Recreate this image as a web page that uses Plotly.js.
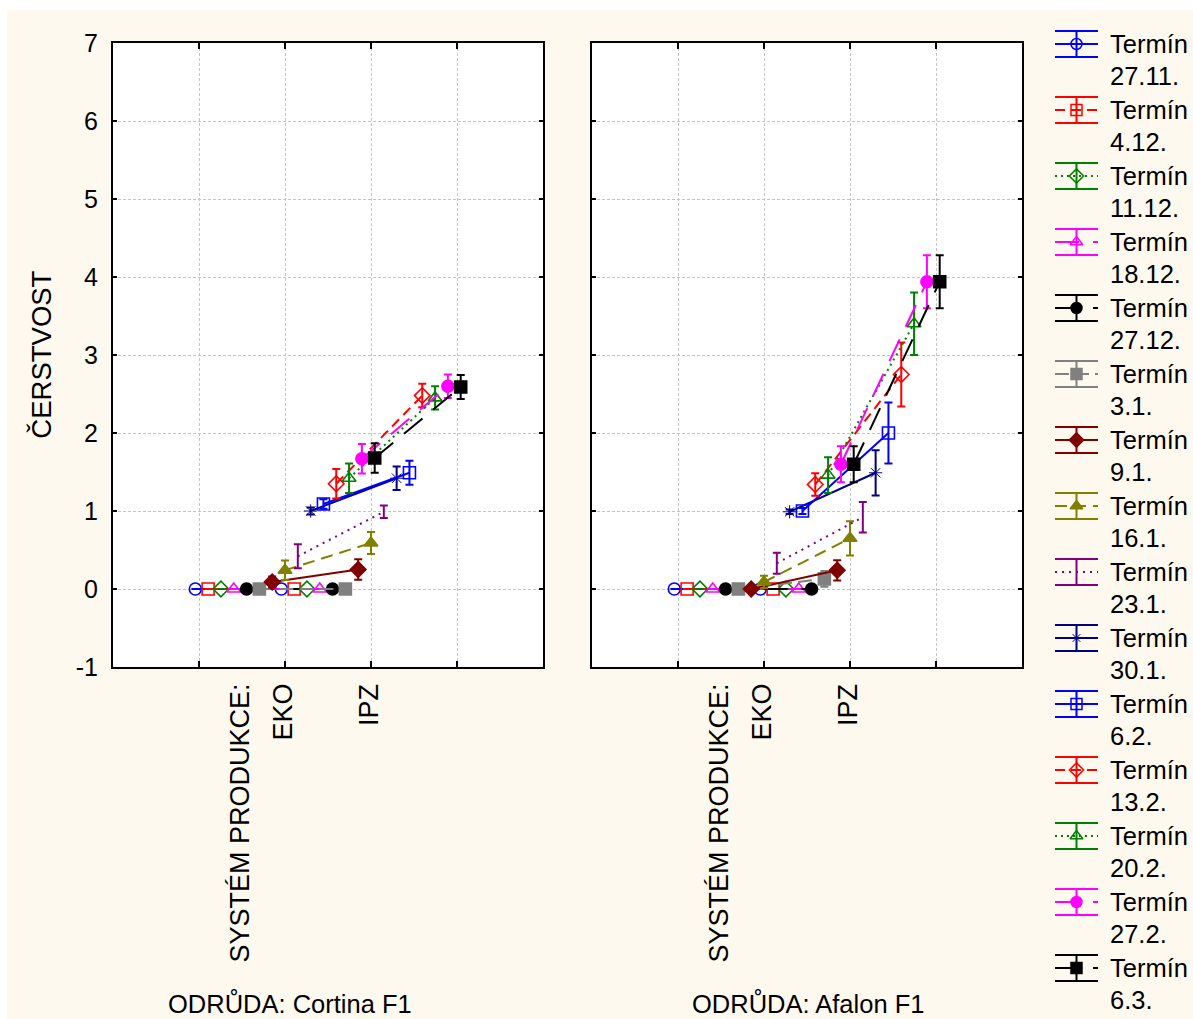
<!DOCTYPE html>
<html>
<head>
<meta charset="utf-8">
<script src="https://cdn.plot.ly/plotly-3.0.1.min.js"></script>
<style>
  html, body { margin: 0; padding: 0; background: #ffffff; }
  #chart { position: absolute; left: 7px; top: 10px; width: 1186px; height: 1009px; }
</style>
</head>
<body>
<div id="chart"></div>
<script>
// ---------- data ----------
const terminDates = ['27.11.', '4.12.', '11.12.', '18.12.', '27.12.', '3.1.', '9.1.', '16.1.', '23.1.', '30.1.', '6.2.', '13.2.', '20.2.', '27.2.', '6.3.'];
const systemLabels = ['SYSTÉM PRODUKCE:', 'EKO', 'IPZ'];
const varietyLabels = ['ODRŮDA: Cortina F1', 'ODRŮDA: Afalon F1'];
const yTitle = 'ČERSTVOST';
const yTickVals = [-1, 0, 1, 2, 3, 4, 5, 6, 7];
const yTickText = ['-1', '0', '1', '2', '3', '4', '5', '6', '7'];

// Cortina F1 – means and error half-widths (EKO, IPZ)
const cortinaEko    = [0, 0, 0, 0, 0, 0, 0.09, 0.24, 0.42, 1.00, 1.09, 1.35, 1.42, 1.67, 1.68];
const cortinaEkoErr = [null, null, null, null, null, null, 0.07, 0.125, 0.155, 0.045, 0.06, 0.19, 0.19, 0.19, 0.19];
const cortinaIpz    = [0, 0, 0, 0, 0, 0, 0.25, 0.59, 0.99, 1.42, 1.49, 2.48, 2.45, 2.60, 2.59];
const cortinaIpzErr = [null, null, null, null, null, null, 0.13, 0.14, 0.08, 0.15, 0.155, 0.15, 0.15, 0.15, 0.155];

// Afalon F1
const afalonEko    = [0, 0, 0, 0, 0, 0, 0, 0.09, 0.33, 0.99, 1.00, 1.34, 1.46, 1.60, 1.60];
const afalonEkoErr = [null, null, null, null, null, null, null, 0.08, 0.135, 0.03, 0.04, 0.145, 0.23, 0.23, 0.23];
const afalonIpz    = [0, 0, 0, 0, 0, 0.13, 0.24, 0.65, 0.92, 1.49, 2.00, 2.75, 3.40, 3.94, 3.94];
const afalonIpzErr = [null, null, null, null, null, 0.10, 0.13, 0.22, 0.195, 0.29, 0.39, 0.41, 0.40, 0.34, 0.34];

// ---------- styles ----------
const colors  = ['#0000FF', '#FF0000', '#008000', '#FF00FF', '#000000', '#808080', '#800000', '#808000', '#800080', '#000080', '#0000FF', '#FF0000', '#008000', '#FF00FF', '#000000'];
const symbols = ['circle-open', 'square-open', 'diamond-open', 'triangle-up-open', 'circle', 'square', 'diamond', 'triangle-up', 'line-ew', 'asterisk-open', 'square-open', 'diamond-open', 'triangle-up-open', 'circle', 'square'];
const dashes  = ['solid', '10px,6px', '2px,4px', '24px,14px', '24px,14px', '14px,6px', 'solid', '12px,7px', '2px,5px', 'solid', 'solid', '10px,6px', '2px,4px', '24px,14px', '24px,14px'];
const FONT = 'Liberation Sans, Arial, sans-serif';
const BG = '#FEF9EE';

const catPos = [1, 2];           // EKO, IPZ
const step = 0.149;              // horizontal dodge between series
const traces = [];

function addPanel(eko, ekoErr, ipz, ipzErr, xa, ya) {
  for (let i = 0; i < terminDates.length; i++) {
    const off = (i - 7) * step;
    const noMarker = symbols[i] === 'line-ew';
    const star = symbols[i] === 'asterisk-open';
    traces.push({
      type: 'scatter',
      mode: noMarker ? 'lines' : 'lines+markers',
      x: [catPos[0] + off, catPos[1] + off],
      y: [eko[i], ipz[i]],
      xaxis: xa, yaxis: ya,
      line: { color: colors[i], width: 2, dash: dashes[i] },
      marker: {
        symbol: symbols[i], size: star ? 11 : 12,
        color: colors[i], line: { color: colors[i], width: star ? 1 : 1.6 }
      },
      error_y: {
        type: 'data', array: [ekoErr[i], ipzErr[i]], visible: true,
        color: colors[i], thickness: 2, width: 4
      },
      showlegend: false, hoverinfo: 'skip'
    });
  }
}
addPanel(cortinaEko, cortinaEkoErr, cortinaIpz, cortinaIpzErr, 'x', 'y');
addPanel(afalonEko, afalonEkoErr, afalonIpz, afalonIpzErr, 'x2', 'y2');

// custom legend glyphs (Statistica style)
const legendAnn = [];
for (let i = 0; i < terminDates.length; i++) {
  const noMarker = symbols[i] === 'line-ew';
  const star = symbols[i] === 'asterisk-open';
  traces.push({
    type: 'scatter', mode: 'lines', x: [0, 1], y: [-i, -i],
    xaxis: 'x3', yaxis: 'y3',
    line: { color: colors[i], width: 2, dash: dashes[i] },
    showlegend: false, hoverinfo: 'skip'
  });
  traces.push({
    type: 'scatter', mode: noMarker ? 'none' : 'markers', x: [0.5], y: [-i],
    xaxis: 'x3', yaxis: 'y3',
    marker: { symbol: symbols[i], size: star ? 9 : 11, color: colors[i], line: { color: colors[i], width: star ? 1 : 1.5 } },
    error_y: { type: 'data', array: [0.197], visible: true, color: colors[i], thickness: 2, width: 21.5 },
    showlegend: false, hoverinfo: 'skip'
  });
  legendAnn.push({
    xref: 'paper', yref: 'y3', x: 0.9215, y: -i, xanchor: 'left', yanchor: 'middle',
    text: 'Termín', showarrow: false, font: { family: FONT, size: 25.5, color: '#000' }
  });
  legendAnn.push({
    xref: 'paper', yref: 'y3', x: 0.9215, y: -i, yshift: -32, xanchor: 'left', yanchor: 'middle',
    text: terminDates[i], showarrow: false, font: { family: FONT, size: 25.5, color: '#000' }
  });
}

// ---------- axes ----------
function xAxis(domain, anchor) {
  return {
    domain: domain, anchor: anchor, range: [-1, 4],
    tickvals: [0, 1, 2, 3], ticktext: ['', '', '', ''],
    ticks: 'inside', ticklen: 6, tickwidth: 2, tickcolor: '#000',
    showline: true, linecolor: '#000', linewidth: 2, mirror: 'ticks',
    showgrid: true, gridcolor: '#C4C4C4', gridwidth: 1, griddash: '3px,2px',
    zeroline: false, fixedrange: true
  };
}
function yAxis(domain, anchor, labels) {
  return {
    domain: domain, anchor: anchor, range: [-1, 7],
    tickvals: yTickVals, ticktext: yTickText,
    showticklabels: labels,
    tickfont: { family: FONT, size: 25, color: '#000' },
    ticks: 'inside', ticklen: 4, tickwidth: 1.5, tickcolor: '#000',
    ticklabelstandoff: 8,
    showline: true, linecolor: '#000', linewidth: 2, mirror: 'ticks',
    showgrid: true, gridcolor: '#C4C4C4', gridwidth: 1, griddash: '3px,2px',
    zeroline: false, fixedrange: true
  };
}

const yDom = [0.34886, 0.96729];
const annotations = [];
// x category labels, rotated
const labelPos = [0.5, 1, 2];
['x', 'x2'].forEach(function (xr) {
  for (let k = 0; k < systemLabels.length; k++) {
    annotations.push({
      xref: xr, yref: 'paper', x: labelPos[k], y: 0.334, xshift: -2,
      xanchor: 'center', yanchor: 'top', textangle: -90,
      text: systemLabels[k], showarrow: false,
      font: { family: FONT, size: 27, color: '#000' }
    });
  }
});
annotations.push({
  xref: 'paper', yref: 'paper', x: 0.1639, y: 0.0159, xanchor: 'center', yanchor: 'middle',
  text: varietyLabels[0], showarrow: false, font: { family: FONT, size: 25.5, color: '#000' }
});
annotations.push({
  xref: 'paper', yref: 'paper', x: 0.6435, y: 0.0159, xanchor: 'center', yanchor: 'middle',
  text: varietyLabels[1], showarrow: false, font: { family: FONT, size: 25.5, color: '#000' }
});
annotations.push({
  xref: 'paper', yref: 'paper', x: -0.0665, y: 0.6586, xanchor: 'center', yanchor: 'middle',
  textangle: -90, text: yTitle, showarrow: false, font: { family: FONT, size: 27.5, color: '#000' }
});

const panelBg = [
  { type: 'rect', xref: 'x domain', yref: 'y domain', x0: 0, x1: 1, y0: 0, y1: 1, fillcolor: '#FFFFFF', line: { width: 0 }, layer: 'below' },
  { type: 'rect', xref: 'x2 domain', yref: 'y2 domain', x0: 0, x1: 1, y0: 0, y1: 1, fillcolor: '#FFFFFF', line: { width: 0 }, layer: 'below' }
];

const layout = {
  width: 1186, height: 1009,
  margin: { l: 106, r: 0, t: 0, b: 0 },
  paper_bgcolor: BG, plot_bgcolor: BG,
  font: { family: FONT, size: 24, color: '#000' },
  showlegend: false,
  xaxis: xAxis([0, 0.39815], 'y'),
  yaxis: yAxis(yDom, 'x', true),
  xaxis2: xAxis([0.44352, 0.84167], 'y2'),
  yaxis2: yAxis(yDom, 'x2', false),
  xaxis3: { domain: [0.87222, 0.91204], anchor: 'y3', range: [0, 1], visible: false, fixedrange: true },
  yaxis3: { domain: [0, 1], anchor: 'x3', range: [-14.7727, 0.51515], visible: false, fixedrange: true },
  shapes: panelBg,
  annotations: annotations.concat(legendAnn)
};

Plotly.newPlot('chart', traces, layout, { staticPlot: true, displayModeBar: false });
</script>
</body>
</html>
